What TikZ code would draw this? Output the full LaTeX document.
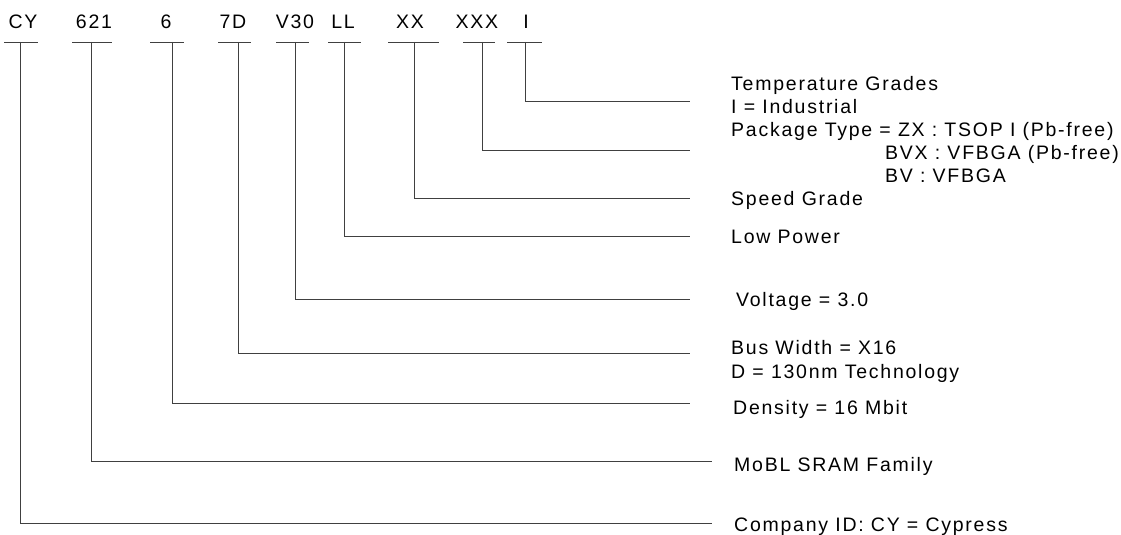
\documentclass[tikz,border=0pt]{standalone}
\usepackage{fontspec}
\setmainfont[LetterSpace=9]{Liberation Sans}
\usetikzlibrary{positioning}
\begin{document}
\begin{tikzpicture}[x=1pt,y=-1pt]
\tikzstyle{field}=[inner sep=0pt,anchor=base,font=\fontsize{19.5}{23}\selectfont]
\tikzstyle{desc}=[inner sep=0pt,anchor=base west,font=\fontsize{19.5}{23}\selectfont]
\tikzstyle{lead}=[draw=black!75,line width=0.9pt]
\useasboundingbox (0,0) rectangle (1121,535);
% part number fields, underline and leader to the right
\foreach \n/\t/\xt/\ua/\ub/\xv/\yl/\xe in {cy/CY/23/4/38/20/523/712,
    fam/621/94/72/112/91/461/712, dens/6/166/150/184/172/403/690,
    bus/7D/233/218/251/238/353/690, volt/V30/295/276/309/295/299/690,
    pow/LL/343/328/361/344/236/690, speed/XX/410/388/439/414/198/690,
    pkg/XXX/477/463/495/482/150/690, temp/I/526/507/542/525/101/690}{
  \node[field] (\n) at (\xt,29) {\t};
  \coordinate (\n-l) at (\ua,42);
  \coordinate (\n-r) at (\ub,42);
  \coordinate (\n-t) at (\xv,42);
  \coordinate (\n-e) at (\xe,\yl);
  \draw[lead] (\n-l) -- (\n-r);
  \draw[lead] (\n-t) |- (\n-e);
}
% descriptions
\node[desc] (temp-a) at (731,90) {Temperature Grades};
\node[desc] (temp-b) at (731,113) {I = Industrial};
\node[desc] (pkg-a) at (731,136) {Package Type = ZX : TSOP I (Pb-free)};
\node[desc] (pkg-b) at (885,159) {BVX : VFBGA (Pb-free)};
\node[desc] (pkg-c) at (885,182) {BV : VFBGA};
\node[desc] (speed-a) at (731,205) {Speed Grade};
\node[desc] (pow-a) at (731,243) {Low Power};
\node[desc] (volt-a) at (736,306) {Voltage = 3.0};
\node[desc] (bus-a) at (731,354) {Bus Width = X16};
\node[desc] (bus-b) at (731,378) {D = 130nm Technology};
\node[desc] (dens-a) at (733,414) {Density = 16 Mbit};
\node[desc] (fam-a) at (734,471) {MoBL SRAM Family};
\node[desc] (cy-a) at (734,531) {Company ID: CY = Cypress};
\end{tikzpicture}
\end{document}
